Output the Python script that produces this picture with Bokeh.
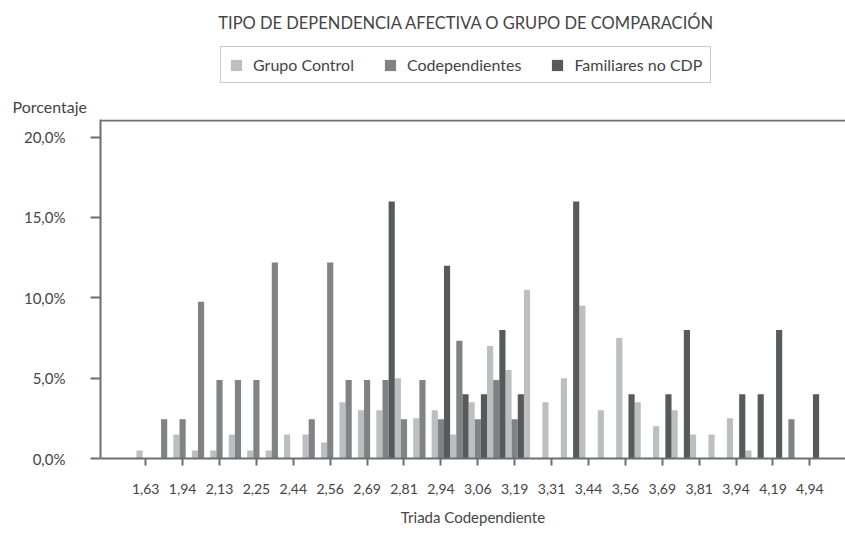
from bokeh.plotting import figure
from bokeh.layouts import column
from bokeh.models import (Range1d, FixedTicker, LinearAxis, Legend, LegendItem, ColumnDataSource,
                          Label, Span, Title, CDSView, IndexFilter)
from bokeh.embed import file_html
from bokeh.resources import INLINE

tick_labels = ["1,63", "1,94", "2,13", "2,25", "2,44", "2,56", "2,69", "2,81", "2,94", "3,06",
               "3,19", "3,31", "3,44", "3,56", "3,69", "3,81", "3,94", "4,19", "4,94"]

grupo_control = [0.5, 0, 1.5, 0.5, 0.5, 1.5, 0.5, 0.5, 1.5, 1.5, 1.0, 3.5, 3.0, 3.0, 5.0, 2.5, 3.0, 1.5,
                 3.5, 7.0, 5.5, 10.5, 3.5, 5.0, 9.5, 3.0, 7.5, 3.5, 2.0, 3.0, 1.5, 1.5, 2.5, 0.5, 0, 0, 0]
codependientes = [0, 2.44, 2.44, 9.76, 4.88, 4.88, 4.88, 12.2, 0, 2.44, 12.2, 4.88, 4.88, 4.88, 2.44, 4.88,
                  2.44, 7.32, 2.44, 4.88, 2.44, 0, 0, 0, 0, 0, 0, 0, 0, 0, 0, 0, 0, 0, 0, 2.44, 0]
familiares = [0, 0, 0, 0, 0, 0, 0, 0, 0, 0, 0, 0, 0, 16, 0, 0, 12, 4, 4, 8, 4, 0, 0, 16, 0, 0, 4, 0,
              4, 8, 0, 0, 4, 4, 8, 0, 4]
series_names = ["Grupo Control", "Codependientes", "Familiares no CDP"]

y_ticks = [0, 5, 10, 15, 20]
y_tick_labels = ["0,0%", "5,0%", "10,0%", "15,0%", "20,0%"]

FONT = "Lato"
TXT = "#444444"
AX = "#6d6e71"
COLORS = ["#bcbec0", "#808285", "#58595b"]

W = 845
H_TOP = 84
H_BOT = 533 - H_TOP

n = len(grupo_control)
idx = list(range(n))
src = ColumnDataSource(dict(
    x1=[i + 1 / 6 for i in idx], x2=[i + 0.5 for i in idx], x3=[i + 5 / 6 for i in idx],
    gc=grupo_control, cd=codependientes, fa=familiares))
cols = [("x1", "gc"), ("x2", "cd"), ("x3", "fa")]

# ---------- header figure: title + legend ----------
head = figure(width=W, height=H_TOP, output_backend="svg", toolbar_location=None,
              x_range=Range1d(0, 1), y_range=Range1d(0, 1),
              min_border_left=100, min_border_right=0, min_border_top=0, min_border_bottom=0,
              x_axis_type=None, y_axis_type=None)
head.outline_line_color = None
head.xgrid.visible = False
head.ygrid.visible = False

# legend keys: same series, restricted to one point that falls outside this header's ranges
keys = [head.vbar(x=xc, top=yc, width=1 / 3, source=src, view=CDSView(filter=IndexFilter([n - 1])),
                  fill_color=c, line_color=None) for (xc, yc), c in zip(cols, COLORS)]

head.add_layout(Label(x=366, y=H_TOP - 22, x_units="screen", y_units="screen",
                      text="TIPO DE DEPENDENCIA AFECTIVA O GRUPO DE COMPARACIÓN",
                      text_align="center", text_baseline="middle", text_font=FONT,
                      text_font_size="16.5px", text_color=TXT))
legend = Legend(items=[LegendItem(label=nm, renderers=[r]) for nm, r in zip(series_names, keys)],
                orientation="horizontal", location=(120, 1),
                glyph_width=14, glyph_height=14, label_height=16, label_standoff=10,
                spacing=29, padding=8, margin=0,
                label_text_font=FONT, label_text_font_size="16px", label_text_color=TXT,
                border_line_color="#9a9a9a", border_line_width=1, background_fill_alpha=1)
head.add_layout(legend, "center")

# ---------- chart figure ----------
p = figure(width=W, height=H_BOT, output_backend="svg", toolbar_location=None,
           x_range=Range1d(-1.95, 38.43), y_range=Range1d(0, 21.095),
           min_border_left=100, min_border_right=0, min_border_top=35, min_border_bottom=75,
           x_axis_type=None, y_axis_type=None)
p.outline_line_color = None
p.xgrid.visible = False
p.ygrid.visible = False

for (xc, yc), c in zip(cols, COLORS):
    p.vbar(x=xc, top=yc, width=1 / 3, source=src, fill_color=c, line_color=None)

p.add_layout(Title(text="Porcentaje", align="left", offset=-88, standoff=4, vertical_align="top",
                   text_font=FONT, text_font_size="16px", text_font_style="normal",
                   text_color=TXT), "above")

xt = [2 * j + 0.5 for j in range(len(tick_labels))]
xaxis = LinearAxis(ticker=FixedTicker(ticks=xt),
                   major_label_overrides={t: l for t, l in zip(xt, tick_labels)})
xaxis.axis_line_color = AX
xaxis.axis_line_width = 2
xaxis.major_tick_line_color = AX
xaxis.major_tick_line_width = 2
xaxis.major_tick_out = 7
xaxis.major_tick_in = 0
xaxis.minor_tick_line_color = None
xaxis.major_label_standoff = 18
xaxis.major_label_text_font = FONT
xaxis.major_label_text_font_size = "14px"
xaxis.major_label_text_color = TXT
xaxis.axis_label = "Triada Codependiente"
xaxis.axis_label_standoff = 11
xaxis.axis_label_text_font = FONT
xaxis.axis_label_text_font_size = "15px"
xaxis.axis_label_text_font_style = "normal"
xaxis.axis_label_text_color = TXT
p.add_layout(xaxis, "below")

yaxis = LinearAxis(ticker=FixedTicker(ticks=y_ticks),
                   major_label_overrides={t: l for t, l in zip(y_ticks, y_tick_labels)})
yaxis.axis_line_color = AX
yaxis.axis_line_width = 2
yaxis.major_tick_line_color = AX
yaxis.major_tick_line_width = 2
yaxis.major_tick_out = 10
yaxis.major_tick_in = 0
yaxis.minor_tick_line_color = None
yaxis.major_label_standoff = 25
yaxis.major_label_text_font = FONT
yaxis.major_label_text_font_size = "15px"
yaxis.major_label_text_color = TXT
p.add_layout(yaxis, "left")

p.add_layout(Span(location=21.03, dimension="width", line_color=AX, line_width=2))

layout = column(head, p, spacing=0)
open("out.html", "w").write(file_html(layout, INLINE))
